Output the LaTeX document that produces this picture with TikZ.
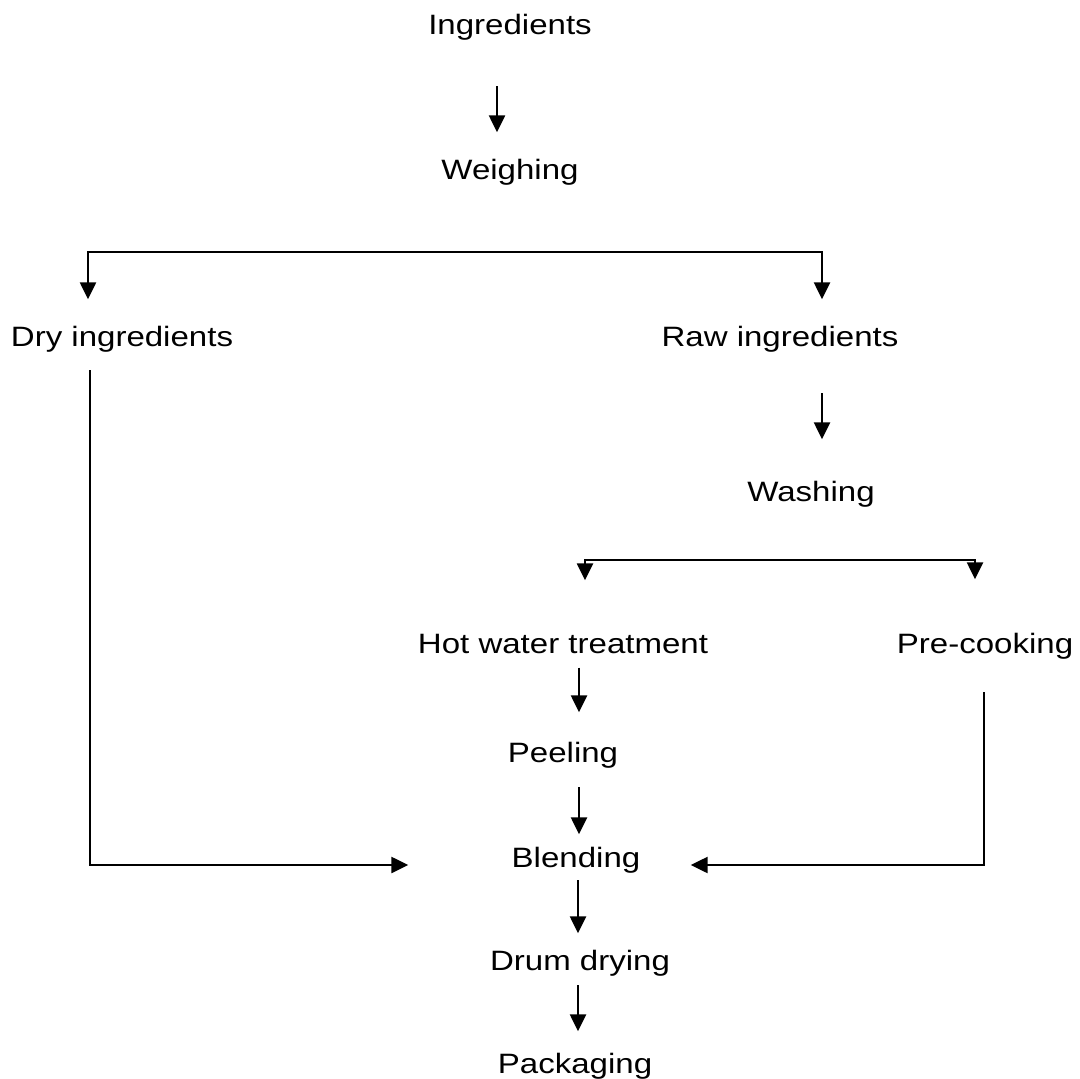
\documentclass[tikz,border=0pt]{standalone}
\usepackage{fontspec}
\setmainfont{Liberation Sans}[FakeStretch=1.18]
\usetikzlibrary{arrows.meta}

\begin{document}
\begin{tikzpicture}[x=0.5pt,y=-0.5pt,font=\fontsize{14}{17}\selectfont,
  stage/.style={anchor=base,inner sep=0pt},
  flow/.style={line width=1.2pt,-{Triangle[length=8.5pt,width=8pt]}}]
\path[use as bounding box] (0,0) rectangle (1080,1079);
% Stages sit on their baselines; connectors are shortened to leave the gaps.
\node[stage] (ingr) at (510,35) {Ingredients};
\node[stage] (weigh) at (510,180) {Weighing};
\node[stage] (dry) at (122,347) {Dry ingredients};
\node[stage] (raw) at (780,347) {Raw ingredients};
\node[stage] (wash) at (811,501) {Washing};
\node[stage] (hot) at (563,653) {Hot water treatment};
\node[stage] (pre) at (985,653) {Pre-cooking};
\node[stage] (peel) at (563,762) {Peeling};
\node[stage] (blend) at (576,867) {Blending};
\node[stage] (drum) at (580,970) {Drum drying};
\node[stage] (pack) at (575,1073) {Packaging};
\coordinate (forkA) at (455,252);
\coordinate (forkB) at (780,560);
\draw[flow,shorten <=22.5pt,shorten >=13.5pt] ([xshift=-6.5pt]ingr.south) -- ([xshift=-6.5pt]weigh.north);
\draw[flow,shorten >=13.5pt] (forkA) -| ([xshift=-17pt]dry.north);
\draw[flow,shorten >=13.5pt] (forkA) -| ([xshift=21pt]raw.north);
\draw[flow,shorten <=20pt,shorten >=20.5pt] ([xshift=21pt]raw.south) -- ([xshift=5.5pt]wash.north);
\draw[flow,shorten >=26.5pt] (forkB) -| ([xshift=11pt]hot.north);
\draw[flow,shorten >=26.5pt] (forkB) -| ([xshift=-5pt]pre.north);
\draw[flow,shorten <=7pt,shorten >=14.5pt] ([xshift=8pt]hot.south) -- ([xshift=8pt]peel.north);
\draw[flow,shorten <=9.5pt,shorten >=6pt] ([xshift=8pt]peel.south) -- ([xshift=1.5pt]blend.north);
\draw[flow,shorten <=8.5pt,shorten >=51.5pt] ([xshift=-16pt]dry.south) |- ([yshift=1pt]blend.base west);
\draw[flow,shorten <=16.5pt,shorten >=25pt] ([xshift=-0.5pt]pre.south) |- ([yshift=1pt]blend.base east);
\draw[flow,shorten <=3.5pt,shorten >=8pt] ([xshift=1pt]blend.south) -- ([xshift=-1pt]drum.north);
\draw[flow,shorten <=4.5pt,shorten >=10.5pt] ([xshift=-1pt]drum.south) -- ([xshift=1.5pt]pack.north);
\end{tikzpicture}
\end{document}
